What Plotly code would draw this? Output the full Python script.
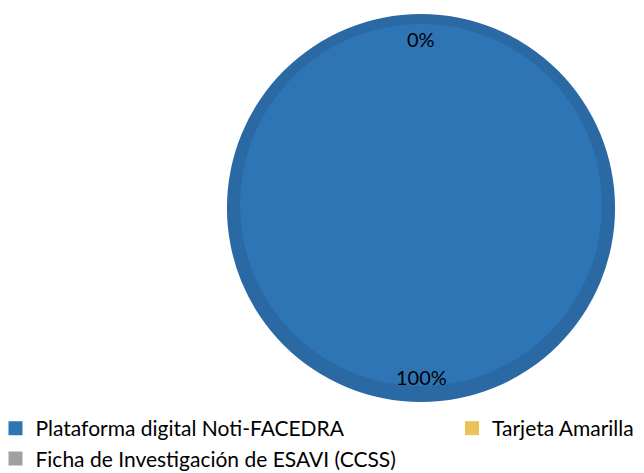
import math
import plotly.graph_objects as go

labels = ["Plataforma digital Noti-FACEDRA", "Tarjeta Amarilla", "Ficha de Investigación de ESAVI (CCSS)"]
values = [100, 0, 0]
colors = ["#2E75B6", "#E9C25A", "#A0A0A0"]
ring_colors = ["#2A69A4", "#D4AF50", "#909090"]
legend_of = ["legend", "legend2", "legend"]

# the page body has an 8px margin: the figure is placed at (8, 8) in the window
OFF = 8
W, H = 644 - OFF, 473 - OFF
FONT = "Lato"

def fx(px):  # window pixel x -> paper fraction
    return (px - OFF) / W

def fy(py):  # window pixel y -> paper fraction
    return 1 - (py - OFF) / H

cx, cy, r_out = 421, 208, 194
cx_in, cy_in, r_in = 421, 205, 181

def dom(x0, y0, r):
    return dict(x=[fx(x0 - r), fx(x0 + r)], y=[fy(y0 + r), fy(y0 - r)])

fig = go.Figure()
fig.add_trace(go.Pie(labels=labels, values=values, sort=False, direction="clockwise",
                     marker=dict(colors=ring_colors, line=dict(width=0)),
                     textinfo="none", hoverinfo="skip", showlegend=False,
                     domain=dom(cx, cy, r_out)))
fig.add_trace(go.Pie(labels=labels, values=values, sort=False, direction="clockwise",
                     marker=dict(colors=colors, line=dict(width=0)),
                     textinfo="none", showlegend=False, domain=dom(cx_in, cy_in, r_in)))

# legend entries (one per category)
for lab, col, lg in zip(labels, colors, legend_of):
    fig.add_trace(go.Scatter(x=[None], y=[None], mode="markers", name=lab,
                             marker=dict(symbol="square", size=14, color=col),
                             legend=lg, hoverinfo="skip"))

total = sum(values)
cum = 0
shown = set()
for v in values:
    mid = (cum + v / 2) / total * 2 * math.pi
    cum += v
    pct = f"{round(v / total * 100)}%"
    x = cx + 0.87 * r_out * math.sin(mid)
    y = cy - 0.87 * r_out * math.cos(mid)
    key = (round(x), round(y))
    if key in shown:
        continue
    shown.add(key)
    fig.add_annotation(x=fx(x), y=fy(y), xref="paper", yref="paper", text=pct,
                       xanchor="center", yanchor="middle", showarrow=False,
                       font=dict(family=FONT, size=20, color="#000000"))

fig.update_layout(
    width=W, height=H, margin=dict(l=0, r=0, t=0, b=0, autoexpand=False),
    paper_bgcolor="white", plot_bgcolor="white",
    font=dict(family=FONT, size=21, color="#000000"),
    xaxis=dict(visible=False), yaxis=dict(visible=False),
    showlegend=True,
    legend=dict(x=-12.5 / W, xanchor="left", y=1 - 400 / H, yanchor="top",
                font=dict(family=FONT, size=21), itemclick=False, tracegroupgap=0,
                bgcolor="rgba(0,0,0,0)"),
    legend2=dict(x=444 / W, xanchor="left", y=1 - 400 / H, yanchor="top",
                 font=dict(family=FONT, size=21), itemclick=False,
                 bgcolor="rgba(0,0,0,0)"),
)
fig.write_html("out.html")
